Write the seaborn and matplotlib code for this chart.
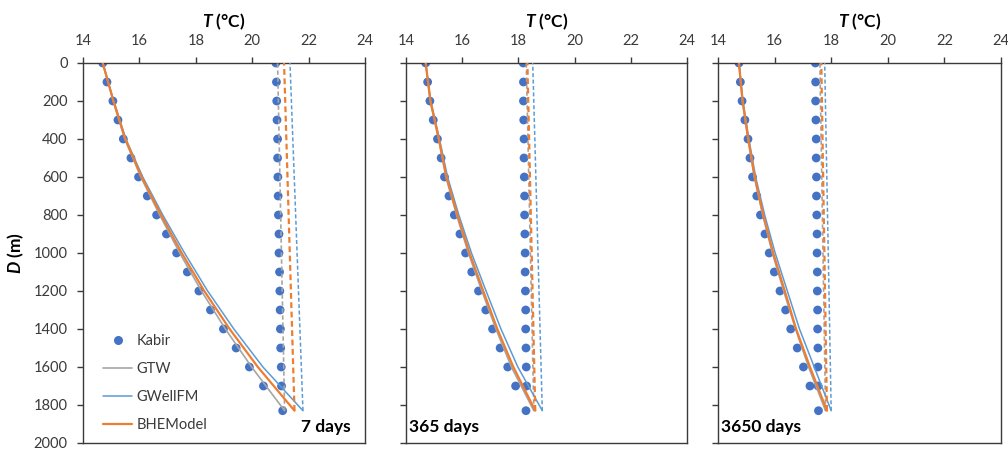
import numpy as np
import pandas as pd
import matplotlib
matplotlib.use("Agg")
import matplotlib.pyplot as plt
import seaborn as sns
from matplotlib.lines import Line2D

# ---------------- data ----------------
panel_labels = ["7 days", "365 days", "3650 days"]
model_names = ["GTW", "GWellFM", "BHEModel"]

# depths of model profiles (m)
depth_in = [0, 200, 400, 600, 800, 1000, 1200, 1400, 1600, 1830]
depth_out = [1830, 0]

# Kabir depths
kabir_depth_in = [0, 100, 200, 300, 400, 500, 600, 700, 800, 900, 1000, 1100,
                  1200, 1300, 1400, 1500, 1600, 1700, 1830]
kabir_depth_out = [0, 100, 200, 300, 400, 500, 600, 700, 800, 900, 1000, 1100,
                   1200, 1300, 1400, 1500, 1600, 1700]

# ---- 7 days ----
kabir_in_7 = [14.70, 14.85, 15.06, 15.24, 15.43, 15.70, 15.97, 16.28, 16.61, 16.96,
              17.32, 17.70, 18.11, 18.52, 18.98, 19.43, 19.90, 20.40, 21.08]
kabir_out_7 = [20.84, 20.86, 20.87, 20.88, 20.90, 20.90, 20.91, 20.92, 20.93, 20.95,
               20.95, 20.97, 20.98, 20.99, 21.00, 21.01, 21.03, 21.04]
gtw_in_7 = [14.70, 15.07, 15.48, 16.05, 16.72, 17.43, 18.20, 19.05, 19.98, 21.15]
gwell_in_7 = [14.70, 15.09, 15.52, 16.12, 16.83, 17.60, 18.42, 19.35, 20.38, 21.80]
bhe_in_7 = [14.70, 15.08, 15.50, 16.08, 16.77, 17.50, 18.30, 19.20, 20.20, 21.50]
gtw_out_7 = [21.15, 20.90]
gwell_out_7 = [21.80, 21.34]
bhe_out_7 = [21.50, 21.13]

# ---- 365 days ----
kabir_in_365 = [14.70, 14.77, 14.85, 14.97, 15.12, 15.25, 15.37, 15.53, 15.72, 15.92,
                16.12, 16.34, 16.58, 16.84, 17.08, 17.35, 17.62, 17.90, 18.27]
kabir_out_365 = [18.17, 18.18, 18.18, 18.19, 18.20, 18.20, 18.21, 18.22, 18.22, 18.23,
                 18.24, 18.24, 18.25, 18.26, 18.26, 18.27, 18.28, 18.29]
gtw_in_365 = [14.70, 14.86, 15.16, 15.42, 15.80, 16.22, 16.70, 17.20, 17.75, 18.55]
gwell_in_365 = [14.70, 14.88, 15.19, 15.48, 15.88, 16.33, 16.85, 17.38, 17.98, 18.85]
bhe_in_365 = [14.70, 14.87, 15.17, 15.44, 15.83, 16.26, 16.75, 17.25, 17.82, 18.60]
gtw_out_365 = [18.55, 18.28]
gwell_out_365 = [18.85, 18.51]
bhe_out_365 = [18.60, 18.32]

# ---- 3650 days ----
kabir_in_3650 = [14.74, 14.79, 14.85, 14.95, 15.06, 15.13, 15.22, 15.37, 15.50, 15.66,
                 15.81, 15.99, 16.19, 16.39, 16.57, 16.80, 17.02, 17.25, 17.55]
kabir_out_3650 = [17.44, 17.45, 17.45, 17.46, 17.47, 17.47, 17.48, 17.48, 17.49, 17.50,
                  17.50, 17.51, 17.51, 17.52, 17.52, 17.53, 17.53, 17.54]
gtw_in_3650 = [14.74, 14.86, 15.06, 15.28, 15.58, 15.92, 16.32, 16.74, 17.20, 17.80]
gwell_in_3650 = [14.74, 14.88, 15.09, 15.33, 15.65, 16.02, 16.45, 16.88, 17.40, 18.00]
bhe_in_3650 = [14.74, 14.87, 15.07, 15.30, 15.60, 15.95, 16.36, 16.76, 17.25, 17.85]
gtw_out_3650 = [17.80, 17.60]
gwell_out_3650 = [18.00, 17.77]
bhe_out_3650 = [17.85, 17.65]

x_ticks = [14, 16, 18, 20, 22, 24]
y_ticks = [0, 200, 400, 600, 800, 1000, 1200, 1400, 1600, 1800, 2000]

panels = [
    dict(kin=kabir_in_7, kout=kabir_out_7,
         lines_in=[gtw_in_7, gwell_in_7, bhe_in_7],
         lines_out=[gtw_out_7, gwell_out_7, bhe_out_7]),
    dict(kin=kabir_in_365, kout=kabir_out_365,
         lines_in=[gtw_in_365, gwell_in_365, bhe_in_365],
         lines_out=[gtw_out_365, gwell_out_365, bhe_out_365]),
    dict(kin=kabir_in_3650, kout=kabir_out_3650,
         lines_in=[gtw_in_3650, gwell_in_3650, bhe_in_3650],
         lines_out=[gtw_out_3650, gwell_out_3650, bhe_out_3650]),
]

# ---------------- style ----------------
sns.set_theme(style="white")
plt.rcParams["font.family"] = ["Lato", "DejaVu Sans"]
plt.rcParams["mathtext.fontset"] = "custom"
plt.rcParams["mathtext.it"] = "Lato:italic:bold"
plt.rcParams["mathtext.rm"] = "Lato:bold"
plt.rcParams["mathtext.bf"] = "Lato:bold"

kabir_color = "#4472C4"
model_colors = {"GTW": "#A5A5A5", "GWellFM": "#5B9BD5", "BHEModel": "#ED7D31"}
model_lw = {"GTW": 1.2, "GWellFM": 1.1, "BHEModel": 1.6}
axis_color = "#3a3a3a"

fig = plt.figure(figsize=(10.08, 4.5), dpi=100)
W, H = 1008.0, 450.0
lefts = [83, 406, 718]
widths = [282, 281, 283]

for i, p in enumerate(panels):
    ax = fig.add_axes([lefts[i] / W, 7 / H, widths[i] / W, 380 / H])

    # Kabir points
    kdf = pd.DataFrame({"T": list(p["kin"]) + list(p["kout"]),
                        "D": kabir_depth_in + kabir_depth_out})
    sns.scatterplot(data=kdf, x="T", y="D", color=kabir_color, s=40,
                    edgecolor="none", linewidth=0, ax=ax, zorder=2, legend=False)

    # model lines
    for name, vin, vout in zip(model_names, p["lines_in"], p["lines_out"]):
        c = model_colors[name]
        lw = model_lw[name]
        dfi = pd.DataFrame({"T": vin, "D": depth_in})
        sns.lineplot(data=dfi, x="T", y="D", sort=False, estimator=None,
                     color=c, lw=lw, ax=ax, zorder=3, legend=False)
        dfo = pd.DataFrame({"T": vout, "D": depth_out})
        sns.lineplot(data=dfo, x="T", y="D", sort=False, estimator=None,
                     color=c, lw=lw, ax=ax, zorder=3, legend=False,
                     linestyle=(0, (2.6, 1.6)))

    ax.set_xlim(14, 24)
    ax.set_ylim(2000, 0)
    ax.set_xticks(x_ticks)
    ax.set_yticks(y_ticks)
    ax.xaxis.tick_top()
    ax.xaxis.set_label_position("top")
    ax.tick_params(axis="both", direction="out", length=4, width=1,
                   color=axis_color, labelcolor=axis_color, labelsize=10.5, pad=7)
    ax.tick_params(axis="x", bottom=False, top=True)
    ax.tick_params(axis="y", left=True, right=False)
    for s in ax.spines.values():
        s.set_visible(True)
        s.set_color(axis_color)
        s.set_linewidth(1.0)

    ax.set_xlabel("$T$ (°C)", fontsize=12.5, fontweight="bold", color="black")
    ax.xaxis.set_label_coords(0.5, (443 - 27) / 380)
    if i == 0:
        ax.set_ylabel("$D$ (m)", fontsize=12.5, fontweight="bold", color="black")
        ax.yaxis.set_label_coords((26 - 83) / 282, 0.5)
    else:
        ax.set_yticklabels([])
        ax.set_ylabel("")

    if i == 0:
        ax.text(0.95, 0.042, panel_labels[i], transform=ax.transAxes,
                ha="right", va="center", fontsize=12.5, fontweight="bold",
                color="black")
        handles = [
            Line2D([], [], marker="o", linestyle="none", color=kabir_color,
                   markersize=6.5, markeredgewidth=0),
            Line2D([], [], color=model_colors["GTW"], lw=model_lw["GTW"]),
            Line2D([], [], color=model_colors["GWellFM"], lw=model_lw["GWellFM"]),
            Line2D([], [], color=model_colors["BHEModel"], lw=model_lw["BHEModel"]),
        ]
        ax.legend(handles, ["Kabir"] + model_names, loc="lower left",
                  bbox_to_anchor=(0.05, 0.014), borderaxespad=0, frameon=False,
                  fontsize=10.5, labelspacing=0.95, handlelength=2.0,
                  handletextpad=0.3, labelcolor=axis_color)
    else:
        ax.text(0.01, 0.042, panel_labels[i], transform=ax.transAxes,
                ha="left", va="center", fontsize=12.5, fontweight="bold",
                color="black")

fig.savefig("out.png", dpi=100, facecolor="white")
